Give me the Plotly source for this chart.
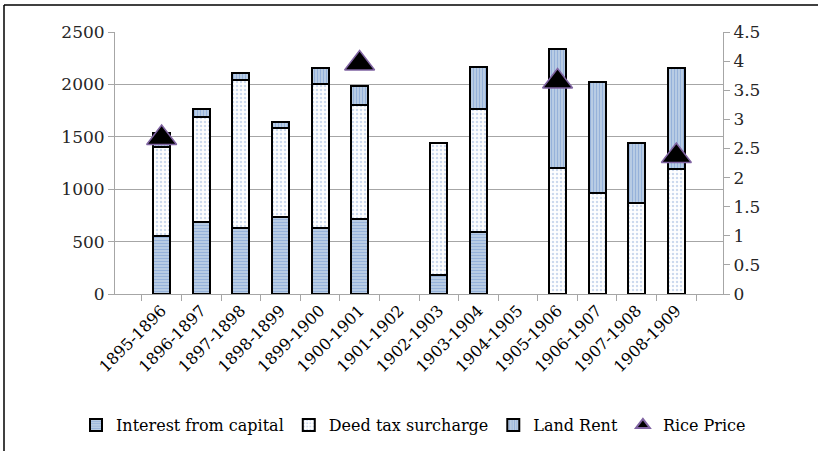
import plotly.graph_objects as go

years = ["1895-1896", "1896-1897", "1897-1898", "1898-1899", "1899-1900", "1900-1901",
         "1901-1902", "1902-1903", "1903-1904", "1904-1905", "1905-1906", "1906-1907",
         "1907-1908", "1908-1909"]
interest = [550, 690, 633, 738, 633, 716, None, 178, 589, None, None, None, None, None]
deed_tax = [850, 1002, 1409, 843, 1371, 1087, None, 1260, 1173, None, 1199, 967, 871, 1190]
land_rent = [140, 70, 64, 57, 149, 185, None, None, 407, None, 1139, 1059, 573, 970]
rice_price = [2.68, None, None, None, None, 3.96, None, None, None, None, 3.65, None, None, 2.37]

FONT = "DejaVu Serif"
outline = dict(color="black", width=2)

fig = go.Figure()
fig.add_trace(go.Bar(
    x=years, y=interest, name="Interest from capital",
    marker=dict(color="#b8cce4", line=outline,
                pattern=dict(shape="-", bgcolor="#b8cce4", fgcolor="#7497cf",
                             size=3, solidity=0.35)),
))
fig.add_trace(go.Bar(
    x=years, y=deed_tax, name="Deed tax surcharge",
    marker=dict(color="white", line=outline,
                pattern=dict(shape=".", bgcolor="white", fgcolor="#9ab3dc",
                             size=4, solidity=0.3)),
))
fig.add_trace(go.Bar(
    x=years, y=land_rent, name="Land Rent",
    marker=dict(color="#b8cce4", line=outline,
                pattern=dict(shape="|", bgcolor="#b8cce4", fgcolor="#7497cf",
                             size=3, solidity=0.35)),
))
fig.add_trace(go.Scatter(
    x=years, y=rice_price, name="Rice Price", yaxis="y2", mode="markers",
    marker=dict(symbol="triangle-up", size=26, color="black",
                line=dict(color="#8064a2", width=1.5)),
))

axis_gray = "#a6a6a6"
fig.update_layout(
    width=818, height=451,
    barmode="stack", bargap=0.57,
    plot_bgcolor="white", paper_bgcolor="white",
    margin=dict(l=115, r=95, t=32, b=157, autoexpand=False),
    font=dict(family=FONT, color="#262626"),
    xaxis=dict(
        type="category", tickangle=-45, tickfont=dict(size=16, color="black"),
        showline=True, linecolor=axis_gray, linewidth=1, automargin=False,
        ticks="outside", tickson="boundaries", ticklen=6, tickcolor=axis_gray,
        showgrid=False,
    ),
    yaxis=dict(
        range=[0, 2500], dtick=500, tickfont=dict(size=17, color="#262626"),
        showline=True, linecolor=axis_gray, linewidth=1, automargin=False,
        ticks="outside", ticklen=6, tickcolor=axis_gray,
        showgrid=True, gridcolor="#a6a6a6", gridwidth=1, zeroline=False,
    ),
    yaxis2=dict(
        range=[0, 4.5], dtick=0.5, overlaying="y", side="right",
        tickfont=dict(size=17, color="#262626"), automargin=False,
        showline=True, linecolor=axis_gray, linewidth=1,
        ticks="outside", ticklen=6, tickcolor=axis_gray,
        showgrid=False, zeroline=False,
    ),
    showlegend=True,
    legend=dict(orientation="h",
                x=(76 - 115) / 608, xanchor="left", y=(294 - 425) / 262, yanchor="middle",
                font=dict(size=16, color="black"), itemsizing="constant",
                traceorder="normal", itemwidth=30, bgcolor="rgba(0,0,0,0)"),
    shapes=[
        dict(type="line", xref="paper", yref="paper",
             x0=(4 - 115) / 608, x1=(818 - 115) / 608,
             y0=(294 - 5) / 262, y1=(294 - 5) / 262,
             line=dict(color="black", width=1.5)),
        dict(type="line", xref="paper", yref="paper",
             x0=(4 - 115) / 608, x1=(4 - 115) / 608,
             y0=(294 - 5) / 262, y1=(294 - 451) / 262,
             line=dict(color="black", width=1.5)),
    ],
)

fig.write_html("out.html")
